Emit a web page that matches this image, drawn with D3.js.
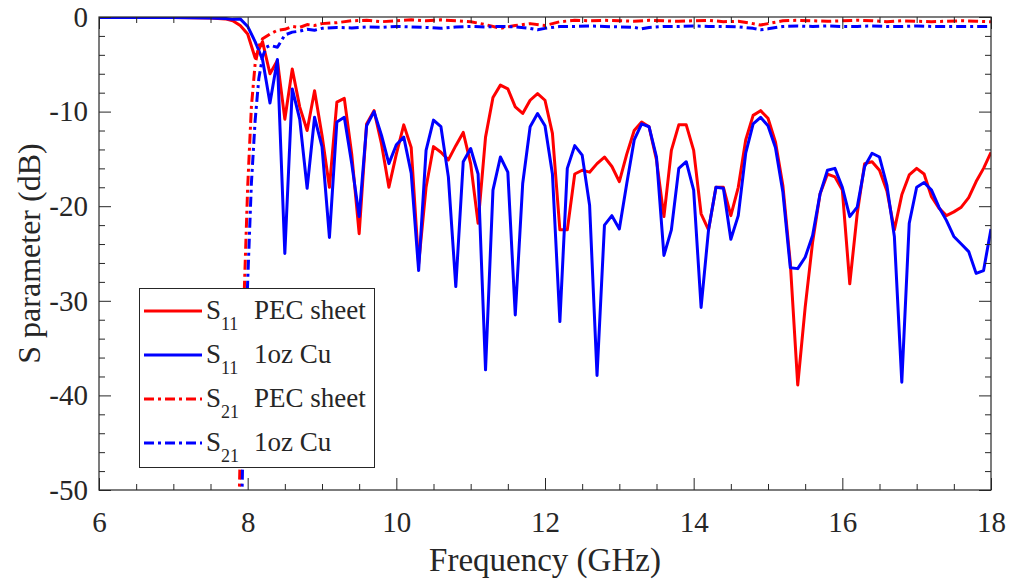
<!DOCTYPE html>
<html>
<head>
<meta charset="utf-8">
<script src="https://cdn.jsdelivr.net/npm/d3@7"></script>
<style>
  html, body { margin: 0; padding: 0; background: #fff; }
  svg { display: block; }
  text { font-family: "Liberation Serif", "Times New Roman", serif; fill: #262626; }
</style>
</head>
<body>
<svg id="chart" width="1011" height="584"></svg>
<script>
// S11 frequency grid (GHz)
const freqS11 = [6.0, 7.0, 7.5, 7.7, 7.8, 7.9,
  8.0, 8.1, 8.2, 8.3, 8.4, 8.5, 8.6, 8.7, 8.8, 8.9,
  9.0, 9.1, 9.2, 9.3, 9.4, 9.5, 9.6, 9.7, 9.8, 9.9,
  10.0, 10.1, 10.2, 10.3, 10.4, 10.5, 10.6, 10.7, 10.8, 10.9,
  11.0, 11.1, 11.2, 11.3, 11.4, 11.5, 11.6, 11.7, 11.8, 11.9,
  12.0, 12.1, 12.2, 12.3, 12.4, 12.5, 12.6, 12.7, 12.8, 12.9,
  13.0, 13.1, 13.2, 13.3, 13.4, 13.5, 13.6, 13.7, 13.8, 13.9,
  14.0, 14.1, 14.2, 14.3, 14.4, 14.5, 14.6, 14.7, 14.8, 14.9,
  15.0, 15.1, 15.2, 15.3, 15.4, 15.5, 15.6, 15.7, 15.8, 15.9,
  16.0, 16.1, 16.2, 16.3, 16.4, 16.5, 16.6, 16.7, 16.8, 16.9,
  17.0, 17.1, 17.2, 17.3, 17.4, 17.5, 17.6, 17.7, 17.8, 17.9, 18.0];

// S11 with PEC sheet (dB)
const s11Pec = [-0.05, -0.05, -0.1, -0.2, -0.4, -0.9,
  -1.8, -4.3, -2.6, -6.0, -4.6, -10.8, -5.5, -9.5, -12.0, -7.8,
  -12.5, -18.0, -9.0, -8.6, -14.5, -22.9, -11.3, -9.9, -13.4, -18.0,
  -14.5, -11.4, -13.8, -26.1, -18.0, -13.7, -14.3, -15.1, -13.6, -12.2,
  -15.5, -21.8, -12.7, -8.5, -7.2, -7.6, -9.5, -10.2, -8.8, -8.1,
  -8.8, -12.3, -22.5, -22.5, -16.6, -16.2, -16.4, -15.5, -14.8, -15.8,
  -17.4, -14.5, -12.0, -11.1, -11.6, -15.1, -21.1, -14.1, -11.4, -11.4,
  -14.1, -20.8, -22.5, -18.0, -18.0, -21.0, -18.0, -13.0, -10.4, -9.9,
  -10.7, -13.2, -17.8, -26.0, -38.9, -30.7, -23.8, -18.7, -16.6, -16.9,
  -18.3, -28.2, -20.8, -15.5, -15.3, -16.2, -18.4, -22.5, -18.8, -16.7,
  -16.0, -16.6, -19.0, -20.2, -21.0, -20.6, -20.1, -19.1, -17.4, -16.0, -14.3];

// S11 with 1 oz copper (dB)
const s11Cu = [-0.05, -0.05, -0.1, -0.15, -0.25, -0.2,
  -1.0, -2.6, -4.5, -9.1, -4.5, -25.0, -7.6, -10.8, -18.1, -10.6,
  -13.7, -23.3, -11.1, -10.6, -15.5, -21.1, -11.5, -10.0, -12.5, -15.5,
  -13.5, -12.7, -16.5, -26.8, -14.1, -10.9, -11.6, -16.9, -28.5, -15.3,
  -13.9, -16.6, -37.3, -18.3, -14.8, -16.4, -31.5, -17.6, -11.6, -10.2,
  -11.5, -16.6, -32.2, -16.0, -13.6, -14.6, -19.9, -37.9, -22.0, -21.0,
  -22.4, -17.6, -13.0, -11.3, -11.6, -14.8, -25.2, -22.5, -16.0, -15.3,
  -18.3, -30.7, -22.5, -18.0, -18.1, -23.5, -21.0, -14.4, -11.3, -10.6,
  -11.5, -13.8, -18.5, -26.5, -26.6, -25.4, -23.1, -18.7, -16.2, -16.0,
  -18.0, -21.1, -20.1, -15.8, -14.4, -14.8, -17.8, -23.2, -38.6, -21.8,
  -18.0, -17.5, -18.3, -20.1, -21.5, -23.2, -24.0, -24.8, -27.1, -26.8, -22.4];

// S21 with PEC sheet
const freqS21Pec = [7.86, 7.9, 7.95, 8.0, 8.05, 8.1, 8.15, 8.2, 8.3, 8.4, 8.5, 8.6, 8.7, 8.8, 8.9,
  9.0, 9.2, 9.4, 9.6, 9.8, 10.0, 10.2, 10.4, 10.6, 10.8, 11.0, 11.2, 11.4, 11.6, 11.8,
  12.0, 12.2, 12.4, 12.6, 12.8, 13.0, 13.2, 13.4, 13.6, 13.8, 14.0, 14.2, 14.4, 14.6, 14.8,
  14.9, 15.0, 15.2, 15.4, 15.6, 15.8, 16.0, 16.2, 16.4, 16.6, 16.8, 17.0, 17.2, 17.4, 17.6,
  17.8, 18.0];
const s21Pec = [-60, -46, -30, -18, -9.5, -5.0, -3.1, -2.3, -1.8, -1.4, -1.3, -1.0, -1.1, -0.8, -0.9,
  -0.7, -0.6, -0.4, -0.35, -0.5, -0.4, -0.3, -0.4, -0.3, -0.4, -0.5, -0.8, -1.2, -0.9, -0.7,
  -0.9, -0.5, -0.35, -0.4, -0.35, -0.4, -0.45, -0.35, -0.4, -0.45, -0.4, -0.35, -0.5, -0.45, -0.7,
  -0.85, -0.7, -0.4, -0.35, -0.4, -0.45, -0.4, -0.35, -0.4, -0.5, -0.4, -0.45, -0.5, -0.45, -0.4,
  -0.45, -0.5];

// S21 with 1 oz copper
const freqS21Cu = [7.9, 7.95, 8.0, 8.05, 8.1, 8.15, 8.2, 8.25, 8.3, 8.4, 8.5, 8.6, 8.7, 8.8, 8.9,
  9.0, 9.2, 9.4, 9.6, 9.8, 10.0, 10.2, 10.4, 10.6, 10.8, 11.0, 11.2, 11.4, 11.6, 11.8,
  11.9, 12.0, 12.2, 12.4, 12.6, 12.8, 13.0, 13.2, 13.3, 13.4, 13.6, 13.8, 14.0, 14.2, 14.4,
  14.6, 14.8, 14.9, 15.0, 15.2, 15.4, 15.6, 15.8, 16.0, 16.2, 16.4, 16.6, 16.8, 17.0, 17.2,
  17.4, 17.6, 17.8, 18.0];
const s21Cu = [-60, -40, -28, -17.6, -11, -6.5, -4.2, -3.2, -3.0, -3.2, -1.9, -1.6, -1.5, -1.3, -1.4,
  -1.2, -1.1, -1.15, -1.05, -1.1, -1.0, -1.05, -1.1, -1.2, -1.05, -1.0, -1.05, -1.0, -1.05, -1.2,
  -1.35, -1.2, -1.0, -1.0, -0.95, -1.0, -1.05, -1.1, -1.25, -1.1, -1.0, -1.0, -0.95, -1.0, -1.0,
  -1.05, -1.2, -1.35, -1.25, -1.0, -0.95, -1.0, -0.95, -1.0, -1.0, -0.95, -1.0, -1.0, -0.95, -1.0,
  -1.0, -1.0, -1.0, -1.0];

const xTicks = [6, 8, 10, 12, 14, 16, 18];
const yTicks = [0, -10, -20, -30, -40, -50];

const series = [
  { name: "PEC sheet", sub: "11", freq: freqS11, values: s11Pec, color: "#ff0000", dash: null },
  { name: "1oz Cu",    sub: "11", freq: freqS11, values: s11Cu,  color: "#0000ff", dash: null },
  { name: "PEC sheet", sub: "21", freq: freqS21Pec, values: s21Pec, color: "#ff0000", dash: "10,4,3,4" },
  { name: "1oz Cu",    sub: "21", freq: freqS21Cu,  values: s21Cu,  color: "#0000ff", dash: "10,4,3,4" }
];

const svg = d3.select("#chart");
const L = 99, R = 991, T = 17, B = 490;
const x = d3.scaleLinear().domain([6, 18]).range([L, R]);
const y = d3.scaleLinear().domain([-50, 0]).range([B, T]);

svg.append("defs").append("clipPath").attr("id", "plotClip")
  .append("rect").attr("x", L).attr("y", T).attr("width", R - L).attr("height", B - T);

// curves
const line = d3.line().x(d => x(d[0])).y(d => y(d[1]));
const plot = svg.append("g").attr("clip-path", "url(#plotClip)");
series.forEach(s => {
  plot.append("path")
    .datum(s.freq.map((f, i) => [f, s.values[i]]))
    .attr("d", line)
    .attr("fill", "none")
    .attr("stroke", s.color)
    .attr("stroke-width", 3)
    .attr("stroke-linejoin", "round")
    .attr("stroke-dasharray", s.dash);
});

// axes with inward ticks on all four sides
const axisColor = "#262626";
const minorX = d3.range(6, 18.001, 0.5).filter(v => !xTicks.includes(v));
const minorY = d3.range(-50, 0.001, 2).filter(v => !yTicks.includes(v));

function styleAxis(g) {
  g.select(".domain").remove();
  g.selectAll("line").attr("stroke", axisColor).attr("stroke-width", 1);
  g.selectAll("text").attr("font-size", 29).attr("fill", axisColor)
    .attr("font-family", "'Liberation Serif', 'Times New Roman', serif");
}

const gx = svg.append("g").attr("transform", `translate(0,${B})`)
  .call(d3.axisBottom(x).tickValues(xTicks).tickSizeInner(-12).tickSizeOuter(0).tickPadding(21).tickFormat(d => String(d)));
styleAxis(gx);
svg.append("g").attr("transform", `translate(0,${B})`)
  .call(d3.axisBottom(x).tickValues(minorX).tickSize(-6).tickFormat("")).call(styleAxis);
svg.append("g").attr("transform", `translate(0,${T})`)
  .call(d3.axisTop(x).tickValues(xTicks).tickSize(-12).tickFormat("")).call(styleAxis);
svg.append("g").attr("transform", `translate(0,${T})`)
  .call(d3.axisTop(x).tickValues(minorX).tickSize(-6).tickFormat("")).call(styleAxis);

const gy = svg.append("g").attr("transform", `translate(${L},0)`)
  .call(d3.axisLeft(y).tickValues(yTicks).tickSizeInner(-12).tickSizeOuter(0).tickPadding(11).tickFormat(d => String(d)));
styleAxis(gy);
svg.append("g").attr("transform", `translate(${L},0)`)
  .call(d3.axisLeft(y).tickValues(minorY).tickSize(-6).tickFormat("")).call(styleAxis);
svg.append("g").attr("transform", `translate(${R},0)`)
  .call(d3.axisRight(y).tickValues(yTicks).tickSize(-12).tickFormat("")).call(styleAxis);
svg.append("g").attr("transform", `translate(${R},0)`)
  .call(d3.axisRight(y).tickValues(minorY).tickSize(-6).tickFormat("")).call(styleAxis);

// frame
svg.append("rect").attr("x", L).attr("y", T).attr("width", R - L).attr("height", B - T)
  .attr("fill", "none").attr("stroke", axisColor).attr("stroke-width", 1.2);

// axis titles
svg.append("text").attr("x", (L + R) / 2).attr("y", 571).attr("text-anchor", "middle")
  .attr("font-size", 33).text("Frequency (GHz)");
svg.append("text").attr("transform", `translate(40,${(T + B) / 2}) rotate(-90)`)
  .attr("text-anchor", "middle").attr("font-size", 32).text("S parameter (dB)");

// legend
const lg = svg.append("g");
lg.append("rect").attr("x", 139.5).attr("y", 288.5).attr("width", 235).attr("height", 179)
  .attr("fill", "#fff").attr("stroke", axisColor).attr("stroke-width", 1);
series.forEach((s, i) => {
  const cy = 311 + i * 44;
  lg.append("line").attr("x1", 144).attr("x2", 202).attr("y1", cy).attr("y2", cy)
    .attr("stroke", s.color).attr("stroke-width", 3).attr("stroke-dasharray", s.dash);
  const t = lg.append("text").attr("x", 206).attr("y", cy + 8).attr("font-size", 27);
  t.append("tspan").text("S");
  t.append("tspan").attr("font-size", 18).attr("dy", 11).text(s.sub);
  t.append("tspan").attr("dy", -11).attr("x", 254).text(s.name);
});
</script>
</body>
</html>
